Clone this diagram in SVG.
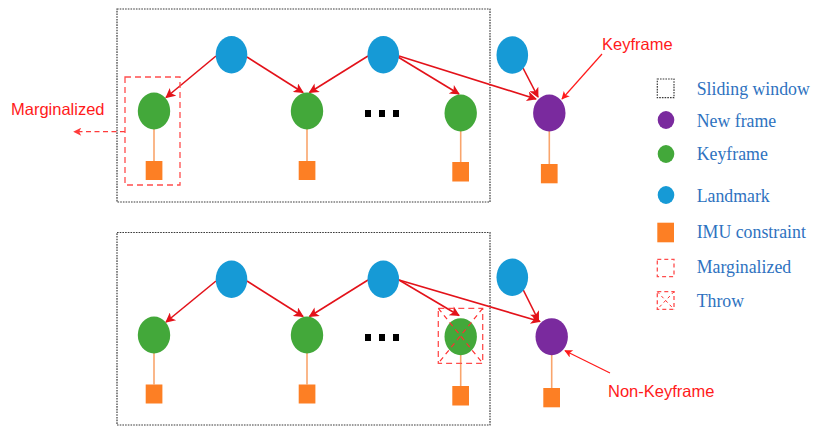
<svg xmlns="http://www.w3.org/2000/svg" width="813" height="428" viewBox="0 0 813 428">
  <defs>
    <style>
      .window { fill: none; stroke: #3a3a3a; stroke-width: 1.2; stroke-dasharray: 1.6 1.1; }
      .landmark { fill: #169ad6; }
      .keyframe { fill: #43a83a; }
      .newframe { fill: #7a2a9e; }
      .imu { fill: #fd7f24; }
      .stem { stroke: #f9a56c; stroke-width: 1.6; }
      .dot { fill: #000; }
      .obs { stroke: #e3121a; stroke-width: 1.6; fill: none; marker-end: url(#arrow); }
      .callout { stroke: #ff1a1a; stroke-width: 1.2; fill: none; marker-end: url(#arrowThin); }
      .dashbox { fill: none; stroke: #ff4d4d; stroke-width: 1.3; stroke-dasharray: 6 4; }
      .dashx { stroke: #ff3030; stroke-width: 1.2; stroke-dasharray: 5 4; }
      .label { font-family: "Liberation Sans", Arial, sans-serif; font-size: 16.5px; fill: #ff1a1a; }
      .legend { font-family: "Liberation Serif", "Times New Roman", serif; font-size: 17.8px; fill: #2e72c0; }
    </style>
    <marker id="arrow" viewBox="0 0 10 10" refX="9" refY="5" markerWidth="12" markerHeight="10" markerUnits="userSpaceOnUse" orient="auto">
      <path d="M0,0 L10,5 L0,10 L2.5,5 Z" fill="#e3121a"/>
    </marker>
    <marker id="arrowThin" viewBox="0 0 10 10" refX="9" refY="5" markerWidth="10" markerHeight="8" markerUnits="userSpaceOnUse" orient="auto">
      <path d="M0,0 L10,5 L0,10 L2.5,5 Z" fill="#ff1a1a"/>
    </marker>
    <marker id="arrowDash" viewBox="0 0 10 10" refX="9" refY="5" markerWidth="9" markerHeight="8" markerUnits="userSpaceOnUse" orient="auto">
      <path d="M0,0 L10,5 L0,10 L2.5,5 Z" fill="#ff3b3b"/>
    </marker>
  </defs>

  <!-- sliding windows -->
  <rect class="window" x="117" y="9" width="373" height="193"/>
  <rect class="window" x="117" y="232.5" width="373" height="192.5"/>

  <!-- connectors -->
  <g id="connectors">
    <!-- IMU stems, top panel -->
    <line class="stem" x1="154" y1="129" x2="154" y2="161"/>
    <line class="stem" x1="307" y1="129" x2="307" y2="161"/>
    <line class="stem" x1="460.7" y1="131" x2="460.7" y2="162"/>
    <line class="stem" x1="549.3" y1="131" x2="549.3" y2="164"/>
    <!-- IMU stems, bottom panel -->
    <line class="stem" x1="154" y1="353" x2="154" y2="384.5"/>
    <line class="stem" x1="307" y1="353" x2="307" y2="384.5"/>
    <line class="stem" x1="460.7" y1="355" x2="460.7" y2="386"/>
    <line class="stem" x1="551.7" y1="355" x2="551.7" y2="388"/>

    <!-- observations, top panel -->
    <line class="obs" x1="216" y1="56" x2="166" y2="97.5"/>
    <line class="obs" x1="247" y1="57" x2="303" y2="92.5"/>
    <line class="obs" x1="368" y1="56" x2="309.5" y2="92.5"/>
    <line class="obs" x1="398" y1="57" x2="459" y2="94"/>
    <line class="obs" x1="399" y1="56" x2="536" y2="99"/>
    <line class="obs" x1="523" y1="68" x2="538" y2="97"/>

    <!-- observations, bottom panel -->
    <line class="obs" x1="216" y1="281" x2="166" y2="322"/>
    <line class="obs" x1="247" y1="281" x2="303" y2="316.5"/>
    <line class="obs" x1="368" y1="280" x2="309.5" y2="316.5"/>
    <line class="obs" x1="399" y1="280" x2="459" y2="315.5"/>
    <line class="obs" x1="399" y1="280" x2="540" y2="321.5"/>
    <line class="obs" x1="523.3" y1="290" x2="538.5" y2="320.5"/>

    <!-- callouts -->
    <line class="callout" x1="602" y1="54" x2="562" y2="99"/>
    <line class="callout" x1="610" y1="373" x2="565" y2="350.7"/>
    <line x1="125" y1="131.7" x2="74" y2="131.7" stroke="#ff3b3b" stroke-width="1.3" stroke-dasharray="5 3.5" marker-end="url(#arrowDash)"/>
  </g>

  <!-- top panel nodes -->
  <g id="landmark-top-1"><ellipse class="landmark" cx="231.5" cy="54.7" rx="15.8" ry="18.7"/></g>
  <g id="landmark-top-2"><ellipse class="landmark" cx="383.3" cy="54.7" rx="15.8" ry="18.7"/></g>
  <g id="landmark-top-3"><ellipse class="landmark" cx="512.3" cy="55" rx="15.8" ry="18.7"/></g>
  <g id="keyframe-top-1"><ellipse class="keyframe" cx="154" cy="111" rx="16.2" ry="18.5"/></g>
  <g id="keyframe-top-2"><ellipse class="keyframe" cx="307" cy="111" rx="16.2" ry="18.5"/></g>
  <g id="keyframe-top-3"><ellipse class="keyframe" cx="460.7" cy="113" rx="16.2" ry="18.5"/></g>
  <g id="newframe-top"><ellipse class="newframe" cx="549.3" cy="113" rx="16.2" ry="18.5"/></g>
  <g id="imu-top-1"><rect class="imu" x="145.7" y="161" width="16.7" height="19"/></g>
  <g id="imu-top-2"><rect class="imu" x="298.7" y="161" width="16.7" height="19"/></g>
  <g id="imu-top-3"><rect class="imu" x="452.3" y="162" width="16.7" height="19.5"/></g>
  <g id="imu-top-4"><rect class="imu" x="540.9" y="164" width="16.7" height="19.3"/></g>
  <g id="ellipsis-top">
    <rect class="dot" x="365" y="110" width="6" height="7"/>
    <rect class="dot" x="379" y="110" width="6" height="7"/>
    <rect class="dot" x="393" y="110" width="6" height="7"/>
  </g>
  <g id="marginalized-box">
    <rect class="dashbox" x="125" y="77" width="55" height="108"/>
  </g>

  <!-- bottom panel nodes -->
  <g id="landmark-bottom-1"><ellipse class="landmark" cx="231.5" cy="279.3" rx="15.8" ry="18.7"/></g>
  <g id="landmark-bottom-2"><ellipse class="landmark" cx="383.3" cy="279.3" rx="15.8" ry="18.7"/></g>
  <g id="landmark-bottom-3"><ellipse class="landmark" cx="512.3" cy="277.3" rx="15.8" ry="18.7"/></g>
  <g id="keyframe-bottom-1"><ellipse class="keyframe" cx="154" cy="335" rx="16.2" ry="18.5"/></g>
  <g id="keyframe-bottom-2"><ellipse class="keyframe" cx="307" cy="335" rx="16.2" ry="18.5"/></g>
  <g id="keyframe-bottom-3"><ellipse class="keyframe" cx="460.7" cy="336.7" rx="16.2" ry="18.5"/></g>
  <g id="newframe-bottom"><ellipse class="newframe" cx="551.7" cy="336.7" rx="16.2" ry="18.5"/></g>
  <g id="imu-bottom-1"><rect class="imu" x="145.7" y="384.5" width="16.7" height="19"/></g>
  <g id="imu-bottom-2"><rect class="imu" x="298.7" y="384.5" width="16.7" height="19"/></g>
  <g id="imu-bottom-3"><rect class="imu" x="452.3" y="386" width="16.7" height="19.5"/></g>
  <g id="imu-bottom-4"><rect class="imu" x="543.3" y="388" width="16.7" height="19.3"/></g>
  <g id="ellipsis-bottom">
    <rect class="dot" x="365" y="334" width="6" height="7"/>
    <rect class="dot" x="379" y="334" width="6" height="7"/>
    <rect class="dot" x="393" y="334" width="6" height="7"/>
  </g>
  <g id="throw-box">
    <rect class="dashbox" x="438.3" y="308.3" width="44.4" height="55"/>
    <line class="dashx" x1="438.3" y1="308.3" x2="482.7" y2="363.3"/>
    <line class="dashx" x1="482.7" y1="308.3" x2="438.3" y2="363.3"/>
  </g>

  <!-- callout labels -->
  <text class="label" x="11" y="115">Marginalized</text>
  <text class="label" x="602" y="50">Keyframe</text>
  <text class="label" x="608" y="396.5">Non-Keyframe</text>

  <!-- legend -->
  <g id="legend">
    <rect class="window" x="657.3" y="79" width="16.7" height="18.7"/>
    <text class="legend" x="696.7" y="95">Sliding window</text>
    <ellipse class="newframe" cx="666" cy="120" rx="8.3" ry="9"/>
    <text class="legend" x="696.7" y="126.7">New frame</text>
    <ellipse class="keyframe" cx="666" cy="154" rx="8.3" ry="9"/>
    <text class="legend" x="696.7" y="160">Keyframe</text>
    <ellipse class="landmark" cx="666" cy="195" rx="8.3" ry="9"/>
    <text class="legend" x="696.7" y="201.7">Landmark</text>
    <rect class="imu" x="657.3" y="222.7" width="16.7" height="19.6"/>
    <text class="legend" x="696.7" y="238.3">IMU constraint</text>
    <rect x="657.3" y="259.3" width="16.7" height="17.4" fill="none" stroke="#ff4d4d" stroke-width="1.3" stroke-dasharray="4 3"/>
    <text class="legend" x="696.7" y="273.3">Marginalized</text>
    <rect x="657.3" y="291.7" width="16.7" height="17.6" fill="none" stroke="#ff4d4d" stroke-width="1.3" stroke-dasharray="4 3"/>
    <line x1="657.3" y1="291.7" x2="674" y2="309.3" stroke="#ff3030" stroke-width="1" stroke-dasharray="3 3"/>
    <line x1="674" y1="291.7" x2="657.3" y2="309.3" stroke="#ff3030" stroke-width="1" stroke-dasharray="3 3"/>
    <text class="legend" x="696.7" y="306.7">Throw</text>
  </g>
</svg>
